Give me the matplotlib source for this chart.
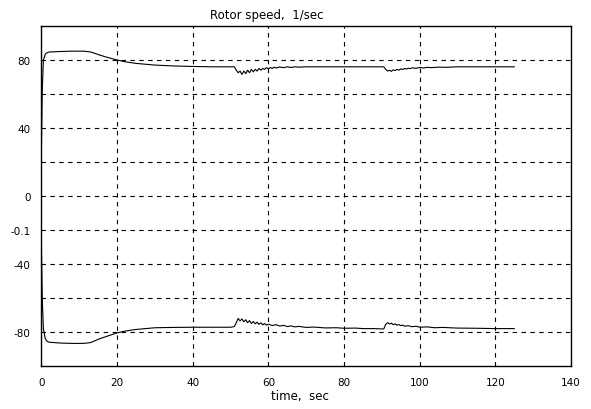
import matplotlib.pyplot as plt

# rotor speed traces (time in sec, speed in 1/sec)
t_pos = [0, 0.2, 0.5, 1, 1.5, 2, 3, 5, 8, 11, 12, 13, 14, 15, 16, 17, 18, 20, 22, 25, 30, 35, 40, 45, 50, 51,
         51.5, 52, 52.5, 53, 53.5, 54, 54.5, 55, 55.5, 56, 56.5, 57, 57.5, 58, 58.5, 59, 59.5, 60, 60.5, 61, 61.5,
         62, 63, 64, 65, 66, 67, 68, 70, 75, 80, 85, 90, 90.5,
         91, 91.5, 92, 92.5, 93, 93.5, 94, 94.5, 95, 95.5, 96, 96.5, 97, 97.5, 98, 99, 100, 101, 102, 103, 105,
         107, 110, 115, 120, 125]
v_pos = [32, 62, 80, 83.5, 84.3, 84.7, 84.8, 85, 85.2, 85.2, 85, 84.7, 84, 83.2, 82.5, 81.8, 81.2, 80, 79, 78,
         77, 76.5, 76.2, 76, 76, 76,
         74, 72.5, 73.5, 71.5, 73.5, 72, 74, 72.5, 74.5, 73, 74.5, 73.5, 75, 74, 75, 74.5, 75.5, 74.8, 75.6, 75, 75.8,
         75.3, 75.9, 75.5, 76, 75.6, 76, 75.8, 76, 76, 76, 76, 76, 76,
         74.5, 73.5, 74, 73.3, 74.2, 73.8, 74.5, 74, 74.8, 74.4, 75, 74.7, 75.2, 74.9, 75.4, 75.1, 75.6, 75.3, 75.7,
         75.5, 75.8, 75.7, 76, 76, 76, 76]

t_neg = [0, 0.2, 0.5, 1, 1.5, 2, 5, 8, 11, 12, 13, 14, 15, 16, 18, 20, 22, 25, 30, 35, 40, 45, 50, 51,
         51.5, 52, 52.5, 53, 53.5, 54, 54.5, 55, 55.5, 56, 56.5, 57, 57.5, 58, 58.5, 59, 59.5, 60,
         61, 62, 63, 64, 65, 66, 67, 68, 70, 72, 75, 78, 80, 83, 85, 88, 90, 90.5,
         91, 91.5, 92, 92.5, 93, 93.5, 94, 94.5, 95, 95.5, 96, 97, 98, 99, 100, 102, 104, 106, 110, 115, 120, 125]
v_neg = [-33, -60, -78, -84, -85.5, -86, -86.5, -86.7, -86.7, -86.5, -86.2, -85.3, -84.3, -83.5, -82, -80.5, -79.5,
         -78.5, -77.5, -77.3, -77.2, -77.2, -77.2, -76.8,
         -74.5, -72, -73.5, -72.3, -74, -72.8, -74.5, -73.3, -75, -73.8, -75.2, -74.2, -75.5, -74.6, -75.8, -75,
         -76, -75.4,
         -76.2, -75.7, -76.5, -76.1, -76.8, -76.4, -77, -76.7, -77.3, -77.1, -77.6, -77.5, -77.8, -77.7, -78, -78,
         -78.2, -78.2,
         -75.5, -74.5, -75.3, -74.8, -75.7, -75.2, -76, -75.6, -76.3, -75.9, -76.6, -76.3, -76.9, -76.6, -77.2,
         -77, -77.5, -77.3, -77.7, -77.8, -78, -78]

x_ticks = [0, 20, 40, 60, 80, 100, 120, 140]
y_ticks = [80, 60, 40, 20, 0, -20, -40, -60, -80]
y_labels = ["80", "", "40", "", "0", "-0.1", "-40", "", "-80"]

fig = plt.figure(figsize=(5.91, 4.10), dpi=100)
ax = fig.add_axes([41.5 / 591, 43 / 410, 529.5 / 591, 340 / 410])

ax.plot(t_pos, v_pos, color="black", lw=0.8)
ax.plot(t_neg, v_neg, color="black", lw=0.8)

ax.set_xlim(0, 140)
ax.set_ylim(-100, 100)
ax.set_xticks(x_ticks)
ax.set_xticklabels([str(x) for x in x_ticks])
ax.set_yticks(y_ticks)
ax.set_yticklabels(y_labels)
ax.tick_params(length=0, labelsize=7.5, pad=8)
ax.grid(True, color="black", linestyle=(0, (4, 4)), lw=0.8)
for s in ax.spines.values():
    s.set_linewidth(1.0)

fig.text(267 / 591, 1 - 15 / 410, "Rotor speed,  1/sec", ha="center", va="center", fontsize=8.5)
fig.text(300 / 591, 1 - 397 / 410, "time,  sec", ha="center", va="center", fontsize=8.5)

fig.savefig("out.png", dpi=100)
